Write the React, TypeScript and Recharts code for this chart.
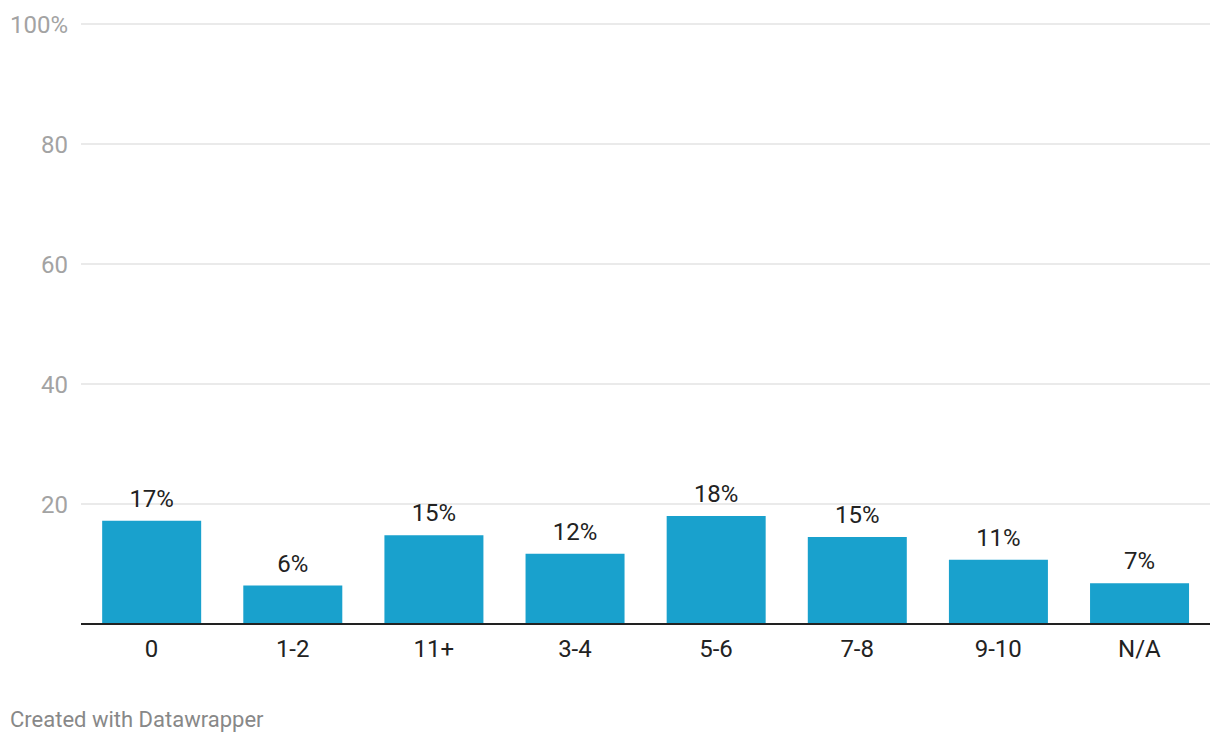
import { Bar, BarChart, CartesianGrid, LabelList, XAxis, YAxis } from "recharts";

const categories = ["0", "1-2", "11+", "3-4", "5-6", "7-8", "9-10", "N/A"];
const shares = [17.2, 6.4, 14.8, 11.7, 18.0, 14.5, 10.7, 6.8];
const labels = ["17%", "6%", "15%", "12%", "18%", "15%", "11%", "7%"];
const yTicks = [0, 20, 40, 60, 80, 100];

const data = categories.map((name, i) => ({
  name,
  value: shares[i],
  label: labels[i],
}));

const font = "Roboto, sans-serif";

export default function App() {
  return (
    <div
      style={{
        position: "absolute",
        left: 0,
        top: 0,
        width: 1220,
        height: 744,
        background: "#fff",
        fontFamily: font,
      }}
    >
      <BarChart
        width={1220}
        height={680}
        data={data}
        margin={{ top: 24, right: 10, bottom: 0, left: 0 }}
        barCategoryGap="15%"
      >
        <CartesianGrid vertical={false} stroke="#e3e3e3" strokeWidth={1.5} />
        <YAxis
          domain={[0, 100]}
          ticks={yTicks}
          width={81}
          axisLine={false}
          tickLine={false}
          tickSize={0}
          tickMargin={13}
          tick={{ fill: "#a3a3a3", fontSize: 24, fontFamily: font }}
          tickFormatter={(v: number) => (v === 100 ? "100%" : v === 0 ? "" : String(v))}
        />
        <XAxis
          dataKey="name"
          height={56}
          axisLine={{ stroke: "#222", strokeWidth: 2 }}
          tickLine={false}
          tickSize={0}
          tickMargin={16}
          tick={{ fill: "#222", fontSize: 24, fontFamily: font }}
          interval={0}
        />
        <Bar dataKey="value" fill="#19a1cd" isAnimationActive={false}>
          <LabelList
            dataKey="label"
            position="top"
            offset={14}
            fill="#222"
            fontSize={24}
            fontFamily={font}
          />
        </Bar>
      </BarChart>
      <div
        style={{
          position: "absolute",
          left: 10,
          top: 706,
          fontSize: 22,
          color: "#888",
          fontFamily: font,
          lineHeight: "28px",
        }}
      >
        Created with Datawrapper
      </div>
    </div>
  );
}
